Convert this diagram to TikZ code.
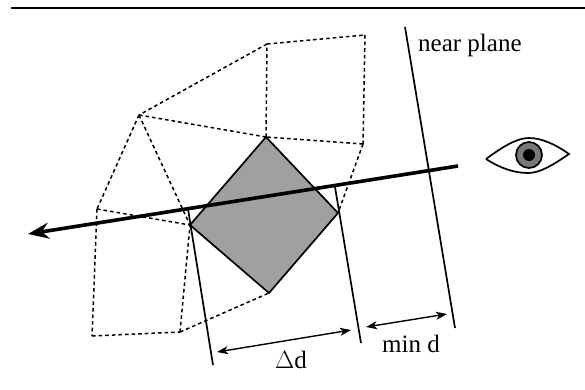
\documentclass[tikz,border=0pt]{standalone}
\usepackage{fontspec}
\setmainfont{Liberation Serif}
\usepackage{xcolor}
\definecolor{quadgray}{HTML}{a0a0a0}
\definecolor{irisgray}{HTML}{787878}
\usetikzlibrary{arrows.meta, positioning, calc}

\begin{document}
\begin{tikzpicture}[
  x=1pt, y=-1pt,
  meshedge/.style={draw=black, line width=1.5pt, dash pattern=on 3.6pt off 3pt},
  planeline/.style={draw=black, line width=1.7pt},
  quadface/.style={draw=black, fill=quadgray, line width=1.7pt, line join=miter},
  viewaxis/.style={draw=black, line width=3.6pt, -{Stealth[length=21pt,width=16pt,inset=7pt]}},
  dimarrow/.style={draw=black, line width=1.4pt, {Stealth[length=11pt,width=8pt,inset=3pt]}-{Stealth[length=11pt,width=8pt,inset=3pt]}},
  lbl/.style={font=\fontsize{25}{27}\selectfont, inner sep=0pt, anchor=base}
]
\useasboundingbox (0,0) rectangle (585,390);
\draw[line width=2.6pt] (11,8) coordinate (ruleL) -- (585,8) coordinate (ruleR);

% mesh vertices
\coordinate (vA) at (267,44);
\coordinate (vB) at (365,35);
\coordinate (vC) at (363,144);
\coordinate (vD) at (266,137);
\coordinate (vE) at (139,115);
\coordinate (vF) at (97,209);
\coordinate (vG) at (190,225);
\coordinate (vH) at (92,336);
\coordinate (vI) at (180,332);
\coordinate (vJ) at (269,293);
\coordinate (vK) at (338,213);

% shaded quad
\draw[quadface] (vD) -- (vK) -- (vJ) -- (vG) -- cycle;

% dashed mesh
\foreach \a/\b in {A/B, B/C, C/D, D/A, A/E, E/D, E/F, E/G, F/G, F/H, H/I, I/G, I/J, C/K}
  \draw[meshedge] (v\a) -- (v\b);

% planes
\draw[planeline] (405,27) coordinate (nearT) -- (455,328) coordinate (nearB);
\draw[planeline] (335,187) coordinate (farT) -- (361,343) coordinate (farB);
\draw[planeline] (188,209) coordinate (backT) -- (213,365) coordinate (backB);

% view direction
\coordinate (axisS) at (458,166);
\coordinate (axisE) at (28,234);
\draw[viewaxis] (axisS) -- (axisE);

% dimension arrows
\coordinate (dL) at (217,352);
\coordinate (dR) at (351,330);
\coordinate (mL) at (366,327);
\coordinate (mR) at (447,314);
\draw[dimarrow] (dL) -- (dR);
\draw[dimarrow] (mL) -- (mR);

% labels
\node[lbl, anchor=base west] (nearlbl) at (418,52) {near plane};
\node[lbl] (deltalbl) at (291,368) {$\Delta$d};
\node[lbl] (minlbl) at (411,352) {min d};

% eye
\coordinate (eyeL) at (486,159);
\coordinate (eyeR) at (569,154);
\draw[line width=1.7pt] (eyeL) .. controls (505,145) and (518,138) .. (529,138)
  .. controls (541,138) and (555,144) .. (eyeR)
  .. controls (553,165) and (540,173) .. (528,173)
  .. controls (514,173) and (500,168) .. (eyeL);
\node[circle, draw=black, fill=irisgray, line width=1.7pt, minimum size=26pt, inner sep=0pt] (iris) at (529,155) {};
\node[circle, fill=black, minimum size=12pt, inner sep=0pt] (pupil) at (iris) {};
\end{tikzpicture}
\end{document}
